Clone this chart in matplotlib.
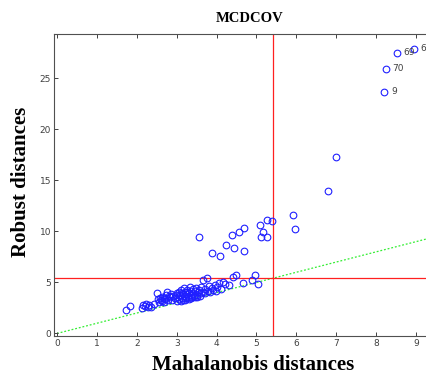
import matplotlib
matplotlib.use("Agg")
import matplotlib.pyplot as plt
import numpy as np

# Mahalanobis (x) and robust (y) distances
maha = [1.73, 1.83, 2.13, 2.15, 2.20, 2.23, 2.28, 2.31, 2.36, 2.42,
        2.50, 2.52, 2.56, 2.58, 2.62, 2.64, 2.67, 2.70, 2.73, 2.75,
        2.78, 2.82, 2.86, 2.88, 2.92, 2.95, 2.98, 3.00, 3.03, 3.05,
        3.07, 3.09, 3.11, 3.13, 3.15, 3.17, 3.18, 3.20, 3.22, 3.24,
        3.25, 3.27, 3.28, 3.30, 3.32, 3.33, 3.35, 3.37, 3.38, 3.40,
        3.42, 3.44, 3.46, 3.48, 3.50, 3.53, 3.56, 3.58, 3.62, 3.65,
        3.67, 3.70, 3.72, 3.75, 3.78, 3.80, 3.84, 3.88, 3.92, 3.95,
        3.98, 4.02, 4.06, 4.10, 4.15, 4.22, 4.30, 4.40, 4.48, 4.67,
        4.88, 4.96, 5.05,
        3.10, 3.21, 3.36, 3.45, 3.52, 3.60, 2.60, 2.68, 2.80, 3.00,
        3.14, 3.26,
        3.57, 3.89, 4.09, 4.23, 4.43, 4.69, 4.38, 4.57, 4.68, 5.10,
        5.16, 5.11, 5.27, 5.27, 5.38, 5.92, 5.97, 6.78, 7.00,
        8.20, 8.24, 8.51, 8.94]
robust = [2.27, 2.73, 2.45, 2.80, 2.65, 2.90, 2.55, 2.75, 2.60, 2.85,
          3.92, 3.35, 3.10, 3.45, 3.20, 3.60, 3.05, 3.35, 3.75, 4.10,
          3.25, 3.55, 3.90, 3.30, 3.65, 3.45, 3.80, 3.20, 3.55, 4.05,
          3.35, 3.75, 4.25, 3.50, 3.90, 3.30, 4.45, 3.65, 4.10, 3.45,
          3.85, 4.30, 3.60, 4.00, 3.40, 4.60, 3.75, 4.15, 3.55, 4.35,
          3.90, 3.65, 4.20, 4.45, 3.80, 4.05, 4.30, 3.70, 4.55, 4.10,
          5.24, 3.95, 4.40, 5.41, 4.20, 4.65, 4.05, 4.45, 4.30, 4.75,
          4.15, 4.60, 4.95, 4.40, 5.05, 4.80, 4.70, 5.57, 5.73, 4.92,
          5.25, 5.73, 4.85,
          3.15, 3.30, 3.45, 3.55, 3.60, 3.95, 3.30, 3.50, 3.70, 4.00,
          4.00, 4.10,
          9.49, 7.86, 7.63, 8.65, 8.38, 8.09, 9.69, 9.92, 10.34, 10.60,
          9.98, 9.43, 9.49, 11.13, 11.00, 11.65, 10.27, 14.00, 17.27,
          23.68, 25.96, 27.53, 27.92]

labeled_idx = [9, 70, 69, 6]
labeled_x = [8.20, 8.24, 8.51, 8.94]
labeled_y = [23.68, 25.96, 27.53, 27.92]

cutoff = 5.41
xticks = list(range(0, 10))
yticks = [0, 5, 10, 15, 20, 25]

fig = plt.figure(figsize=(4.26, 3.76), dpi=100)
ax = fig.add_axes([54/426, 1 - 336/376, (446 - 54)/426, (336 - 34)/376])

ax.plot([0, 10], [0, 10], linestyle=(0, (1.5, 1.5)), color='#33ee33', lw=0.9, zorder=1)
ax.axvline(cutoff, color='#ff2020', lw=0.9, zorder=2)
ax.axhline(cutoff, color='#ff2020', lw=0.9, zorder=2)
ax.plot(maha, robust, linestyle='none', marker='o', markersize=4.8,
        markerfacecolor='none', markeredgecolor='#2020ff', markeredgewidth=0.8, zorder=3)

for lab, x, y in zip(labeled_idx, labeled_x, labeled_y):
    ax.annotate(str(lab), (x, y), xytext=(5, 0), textcoords='offset points',
                fontsize=6.5, color='#404040', va='center', ha='left',
                annotation_clip=False)

ax.set_xlim(-0.075, 9.75)
ax.set_ylim(-0.25, 29.35)
ax.set_xticks(xticks)
ax.set_yticks(yticks)
ax.tick_params(direction='in', length=3, width=0.7, labelsize=6.5,
               labelcolor='#404040', color='#404040', top=True, right=False, pad=2)
for s in ax.spines.values():
    s.set_color('#505050')
    s.set_linewidth(0.8)
ax.spines['right'].set_visible(False)

fig.text(250/426, 1 - 18/376, 'MCDCOV', ha='center', va='center',
         family='Liberation Serif', fontweight='bold', fontsize=10.5)
fig.text(253/426, 1 - 365/376, 'Mahalanobis distances', ha='center', va='center',
         family='Liberation Serif', fontweight='bold', fontsize=15)
fig.text(21/426, 1 - 182/376, 'Robust distances', ha='center', va='center',
         rotation=90, family='Liberation Serif', fontweight='bold', fontsize=15)

fig.savefig('out.png', dpi=100)
